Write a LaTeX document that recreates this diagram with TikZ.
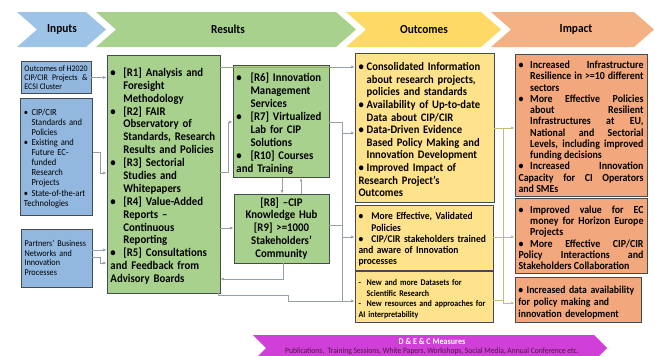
\documentclass[tikz,border=0pt]{standalone}
\usepackage{fontspec}
\setmainfont{Carlito}[FakeStretch=0.92]
\usetikzlibrary{arrows.meta}

\definecolor{inblue}{RGB}{146,184,224}
\definecolor{hdblue}{RGB}{157,195,230}
\definecolor{resgreen}{RGB}{169,209,142}
\definecolor{hdyellow}{RGB}{255,217,102}
\definecolor{outyellow}{RGB}{255,226,140}
\definecolor{hdsalmon}{RGB}{244,177,131}
\definecolor{impsalmon}{RGB}{242,168,124}
\definecolor{dcmagenta}{RGB}{208,64,216}
\definecolor{dctext}{RGB}{80,20,70}
\definecolor{boxframe}{RGB}{70,75,80}
\definecolor{linegray}{RGB}{150,160,170}
\definecolor{lineolive}{RGB}{190,190,120}

% bullet and dash items with hanging indent, forced line break
\newcommand\bitem[1][8pt]{\par\noindent\hangindent=#1\hangafter=1\makebox[#1][l]{\textbullet}\ignorespaces}
\newcommand\ditem[1][8pt]{\par\noindent\hangindent=#1\hangafter=1\makebox[#1][l]{-}\ignorespaces}
\newcommand\nl{\hfil\break}

\begin{document}
\begin{tikzpicture}[x=0.03cm, y=-0.03cm,
    box/.style={draw=boxframe, line width=0.7pt, inner sep=3pt, align=left,
        execute at begin node={\hyphenpenalty=10000\relax\tolerance=9999\relax}},
    inbox/.style={box, fill=inblue, font=\fontsize{7.9}{8.6}\selectfont},
    resbox/.style={box, fill=resgreen, font=\bfseries\fontsize{10}{11}\selectfont},
    outbox/.style={box, fill=outyellow, font=\bfseries\fontsize{9.8}{10.75}\selectfont},
    impbox/.style={box, fill=impsalmon, align=justify, font=\bfseries\fontsize{9.2}{9.6}\selectfont},
    head/.style={font=\bfseries\fontsize{10.5}{12}\selectfont},
    conn/.style={draw=linegray, line width=0.5pt, -{Latex[length=3pt,width=2.5pt]}},
    wire/.style={draw=linegray, line width=0.5pt}]
    \useasboundingbox (0,0) rectangle (655,355);
    \clip (0,0) rectangle (655,355);

    % Header arrows
    \fill[hdblue] (17,12) -- (86,12) -- (106,29.5) -- (86,47) -- (17,47) -- (37,29.5) -- cycle;
    \fill[resgreen] (96,12) -- (336,12) -- (356,29.5) -- (336,47) -- (96,47) -- (116,29.5) -- cycle;
    \fill[hdyellow] (346,12) -- (481,12) -- (501,29.5) -- (481,47) -- (346,47) -- (366,29.5) -- cycle;
    \fill[hdsalmon] (491,12) -- (634,12) -- (654,29.5) -- (634,47) -- (491,47) -- (511,29.5) -- cycle;
    \node[head] (hin) at (62,29.5) {Inputs};
    \node[head] (hres) at (228,29.5) {Results};
    \node[head] (hout) at (424,29.5) {Outcomes};
    \node[head] (himp) at (576,29.5) {Impact};

    % Inputs
    \node[inbox, align=justify, font=\fontsize{7.3}{7.9}\selectfont, text width=53.8pt, minimum height=24.8pt] (in1) at (56,77.5)
        {Outcomes of H2020\linebreak CIP/CIR Projects \&\linebreak ECSI Cluster};
    \node[inbox, text width=55.6pt, minimum height=99.9pt] (in2) at (56.5,156.5)
        {\bitem[6.5pt] CIP/CIR\nl Standards and\nl Policies
         \bitem[6.5pt] Existing and\nl Future EC-\nl funded\nl Research\nl Projects
         \bitem[6.5pt] State-of-the-art\nl Technologies};
    \node[inbox, font=\fontsize{7.6}{8.2}\selectfont, text width=54.6pt, minimum height=49.5pt] (in3) at (56.5,258)
        {Partners’ Business\nl Networks and\nl Innovation\nl Processes};

    % Results
    \node[resbox, text width=90.5pt, minimum height=203pt] (res) at (163.5,174)
        {\bitem[11pt] [R1] Analysis and\nl Foresight\nl Methodology
         \bitem[11pt] [R2] FAIR\nl Observatory of\nl Standards, Research\nl Results and Policies
         \bitem[11pt] [R3] Sectorial\nl Studies and\nl Whitepapers
         \bitem[11pt] [R4] Value-Added\nl Reports –\nl Continuous\nl Reporting
         \bitem[11pt] [R5] Consultations\nl and Feedback from\nl Advisory Boards};
    \node[resbox, text width=76pt, minimum height=87.9pt] (r6) at (281,121.5)
        {\bitem[12pt] [R6] Innovation\nl Management\nl Services
         \bitem[12pt] [R7] Virtualized\nl Lab for CIP\nl Solutions
         \bitem[12pt] [R10] Courses\nl and Training};
    \node[resbox, align=center, text width=75pt, minimum height=58pt] (r8) at (281.5,228.5)
        {[R8] –CIP\\Knowledge Hub\\{}[R9] >=1000\\Stakeholders’\\Community};

    % Outcomes
    \node[outbox, text width=112.6pt, minimum height=127.2pt] (out1) at (424.5,127.5)
        {\bitem[7pt] Consolidated Information\nl about research projects,\nl policies and standards
         \bitem[7pt] Availability of Up-to-date\nl Data about CIP/CIR
         \bitem[7pt] Data-Driven Evidence\nl Based Policy Making and\nl Innovation Development
         \bitem[7pt] Improved Impact of\nl Research Project’s\nl Outcomes};
    \node[outbox, font=\bfseries\fontsize{8.8}{9.6}\selectfont, text width=111.8pt, minimum height=48.7pt] (out2) at (424,237.5)
        {\bitem[11pt] More Effective, Validated\nl Policies
         \bitem[11pt] CIP/CIR stakeholders trained\nl and aware of Innovation\nl processes};
    \node[outbox, font=\bfseries\fontsize{7.4}{9}\selectfont, text width=111.8pt, minimum height=41pt] (out3) at (424,297)
        {\ditem[7pt] New and more Datasets for\nl Scientific Research
         \ditem[7pt] New resources and approaches for\nl AI interpretability};

    % Impact
    \node[impbox, text width=106.7pt, minimum height=114.4pt] (imp1) at (581,125)
        {\bitem[10pt] Increased Infrastructure\linebreak Resilience in >=10 different\linebreak sectors
         \bitem[10pt] More Effective Policies\linebreak about Resilient\linebreak Infrastructures at EU,\linebreak National and Sectorial\linebreak Levels, including improved\linebreak funding decisions
         \bitem[10pt] Increased Innovation\linebreak Capacity for CI Operators\linebreak and SMEs};
    \node[impbox, text width=106.7pt, minimum height=58pt] (imp2) at (581,236)
        {\bitem[10pt] Improved value for EC\linebreak money for Horizon Europe\linebreak Projects
         \bitem[10pt] More Effective CIP/CIR\linebreak Policy Interactions and\linebreak Stakeholders Collaboration};
    \node[impbox, align=left, font=\bfseries\fontsize{9}{10.3}\selectfont, text width=101.6pt, minimum height=35.9pt] (imp3) at (578,300)
        {\bitem[7pt] Increased data availability\nl for policy making and\nl innovation development};

    % D & E & C band
    \fill[dcmagenta] (253,335) -- (594,335) -- (607,348) -- (594,361) -- (253,361) -- (266,348) -- cycle;
    \node[text=white, font=\bfseries\fontsize{7.5}{8}\selectfont] (dec) at (432,341.5) {D \& E \& C Measures};
    \node[text=dctext, font=\fontsize{7}{8}\selectfont] (pubs) at (432,351.5)
        {Publications,~ Training Sessions, White Papers, Workshops, Social Media, Annual Conference etc.};

    % Inputs to results
    \coordinate (ja) at (100,152);
    \coordinate (jb) at (100,173);
    \coordinate (jc) at (100,250);
    \coordinate (jd) at (100,257);
    \coordinate (je) at (100,263);
    \draw[conn] (in1.east) -- (in1.east -| res.west);
    \draw[conn] (in2.east |- ja) -- (ja) -- (jb) -- (jb -| res.west);
    \draw[conn] (in3.east |- jc) -- (jc -| res.west);
    \draw[conn] (in3.east |- jd) -- (jd) -- (je) -- (je -| res.west);

    % Results to middle column
    \coordinate (ka) at (228,172);
    \coordinate (kb) at (228,122);
    \coordinate (kc) at (228,228);
    \coordinate (kd) at (283,279);
    \coordinate (ke) at (282,180);
    \coordinate (kf) at (301,180);
    \coordinate (kg) at (228,67);
    \draw[conn] (res.east |- ka) -- (ka) -- (kb) -- (kb -| r6.west);
    \draw[conn] (res.east |- kc) -- (kc -| r8.west);
    \draw[conn] (r8.south -| kd) -- (kd) -- (kd -| res.east);
    \draw[conn] (r6.south -| ke) -- (r8.north -| ke);
    \draw[conn] (r8.north -| kf) -- (r6.south -| kf);
    \draw[conn] (res.east |- kg) -- (kg -| out1.west);

    % Middle column to outcomes
    \coordinate (ma) at (342,122);
    \coordinate (mb) at (342,301);
    \coordinate (mc) at (342,225);
    \coordinate (md) at (342,133);
    \coordinate (me) at (342,237);
    \coordinate (mf) at (218,295);
    \coordinate (mg) at (288,295);
    \coordinate (mh) at (288,301);
    \draw[wire] (r6.east |- ma) -- (ma) -- (mb);
    \draw[wire] (r8.east |- mc) -- (mc);
    \draw[conn] (res.south -| mf) -- (mf) -- (mg) -- (mh) -- (mh -| out3.west);
    \draw[conn] (md) -- (md -| out1.west);
    \draw[conn] (me) -- (me -| out2.west);

    % Outcomes to impact
    \coordinate (pa) at (503,128);
    \coordinate (pb) at (503,303);
    \coordinate (pc) at (503,237);
    \coordinate (pd) at (503,300);
    \draw[conn, draw=lineolive] (out1.east |- pa) -- (pa -| imp1.west);
    \draw[wire, draw=lineolive] (pa) -- (pb);
    \draw[wire, draw=lineolive] (out2.east |- pc) -- (pc);
    \draw[wire, draw=lineolive] (out3.east |- pd) -- (pd);
    \draw[conn, draw=lineolive] (pc) -- (pc -| imp2.west);
    \draw[conn, draw=lineolive] (pb) -- (pb -| imp3.west);
\end{tikzpicture}
\end{document}
